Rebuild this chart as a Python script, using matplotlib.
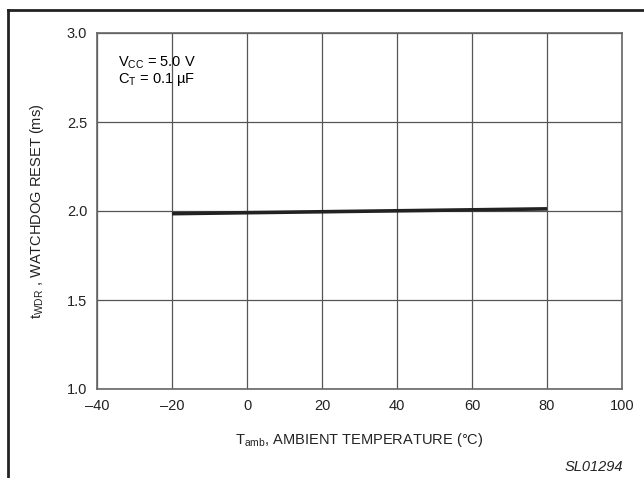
import matplotlib.pyplot as plt
import matplotlib.lines as mlines

plt.rcParams['font.family'] = ['Liberation Sans', 'DejaVu Sans']
plt.rcParams['mathtext.fontset'] = 'custom'
plt.rcParams['mathtext.rm'] = 'Liberation Sans'
plt.rcParams['mathtext.it'] = 'Liberation Sans:italic'

# data
temp_c = [-20, 80]
t_wdr_ms = [1.985, 2.012]
x_ticks = [-40, -20, 0, 20, 40, 60, 80, 100]
y_ticks = [1.0, 1.5, 2.0, 2.5, 3.0]

fs = 10.5

fig = plt.figure(figsize=(6.44, 4.78), dpi=100)
ax = fig.add_axes([97 / 644, 1 - 389 / 478, 525 / 644, 356 / 478])

ax.plot(temp_c, t_wdr_ms, color='#222222', lw=2.6, solid_capstyle='butt', zorder=3)

ax.set_xlim(-40, 100)
ax.set_ylim(1.0, 3.0)
ax.set_xticks(x_ticks)
ax.set_yticks(y_ticks)
ax.set_xticklabels([str(v).replace('-', '\u2013') for v in x_ticks])
ax.set_yticklabels([f'{v:.1f}' for v in y_ticks])
ax.grid(True, color='#555555', lw=0.9)
ax.tick_params(axis='x', length=0, labelsize=fs, pad=7, colors='#222222')
ax.tick_params(axis='y', length=0, labelsize=fs, pad=7, colors='#222222')
for s in ax.spines.values():
    s.set_color('#666666')
    s.set_linewidth(1.2)

ax.text(0.04, 0.915, r'V$_{\mathrm{CC}}$ = 5.0 V', transform=ax.transAxes, fontsize=fs, va='center')
ax.text(0.04, 0.87, 'C$_{\\mathrm{T}}$ = 0.1 \u00b5F', transform=ax.transAxes, fontsize=fs, va='center')

ax.set_xlabel(r'T$_{\mathrm{amb}}$, AMBIENT TEMPERATURE ($\degree$C)', fontsize=fs, labelpad=13, color='#222222')
ax.set_ylabel(r't$_{\mathrm{WDR}}$ , WATCHDOG RESET (ms)', fontsize=fs, labelpad=15, color='#222222')

fig.text(623 / 644, 1 - 467 / 478, 'SL01294', fontsize=fs, style='italic', ha='right', va='center', color='#222222')

# outer frame (left and top)
fig.add_artist(mlines.Line2D([8 / 644, 8 / 644], [0, 1 - 10 / 478], color='#222222', lw=2, transform=fig.transFigure))
fig.add_artist(mlines.Line2D([8 / 644, 1], [1 - 10 / 478, 1 - 10 / 478], color='#222222', lw=2, transform=fig.transFigure))

fig.savefig('out.png', dpi=100)
